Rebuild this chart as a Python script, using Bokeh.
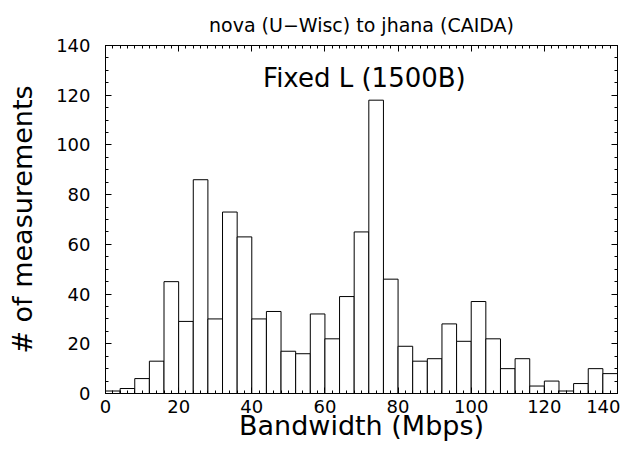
from bokeh.plotting import figure
from bokeh.models import LinearAxis, SingleIntervalTicker, Range1d, Label
from bokeh.embed import file_html
from bokeh.resources import INLINE

# histogram bins (Mbps), bin width 4
bin_left = [0, 4, 8, 12, 16, 20, 24, 28, 32, 36, 40, 44, 48, 52, 56, 60, 64, 68,
            72, 76, 80, 84, 88, 92, 96, 100, 104, 108, 112, 116, 120, 124, 128, 132, 136]
counts = [1, 2, 6, 13, 45, 29, 86, 30, 73, 63, 30, 33, 17, 16, 32, 22, 39, 65,
          118, 46, 19, 13, 14, 28, 21, 37, 22, 10, 14, 3, 5, 1, 4, 10, 8]
bin_width = 4
bin_right = [b + bin_width for b in bin_left]
bottoms = [0] * len(counts)

title_text = "nova (U\u2212Wisc) to jhana (CAIDA)"
x_label = "Bandwidth (Mbps)"
y_label = "# of measurements"
note_text = "Fixed L (1500B)"

FONT = "DejaVu Sans"

p = figure(width=620, height=446, output_backend="svg", toolbar_location=None,
           x_range=Range1d(0, 140), y_range=Range1d(0, 140),
           min_border_left=105, min_border_right=3, min_border_top=45, min_border_bottom=53,
           x_axis_label=x_label, y_axis_label=y_label)

p.title.text = title_text
p.title.text_font = FONT
p.title.text_font_size = "19px"
p.title.text_font_style = "normal"
p.title.align = "center"
p.title.text_color = "black"
p.title.standoff = 20

p.quad(left=bin_left, right=bin_right, top=counts, bottom=bottoms,
       fill_color="white", line_color="black", line_width=1)

p.xgrid.visible = False
p.ygrid.visible = False
p.outline_line_color = "black"
p.outline_line_width = 1
p.background_fill_color = "white"
p.border_fill_color = "white"

xt = SingleIntervalTicker(interval=20, num_minor_ticks=10)
yt = SingleIntervalTicker(interval=20, num_minor_ticks=4)

def style(ax, ticker, labels=True):
    ax.ticker = ticker
    ax.major_tick_in = 6
    ax.major_tick_out = 0
    ax.minor_tick_in = 3
    ax.minor_tick_out = 0
    ax.axis_line_color = "black"
    ax.major_tick_line_color = "black"
    ax.minor_tick_line_color = "black"
    ax.major_label_text_font = FONT
    ax.major_label_text_font_size = "18px" if labels else "0px"
    ax.major_label_text_color = "black" if labels else None
    ax.axis_label_text_font = FONT
    ax.axis_label_text_font_style = "normal"
    ax.axis_label_text_color = "black"

style(p.xaxis[0], xt)
style(p.yaxis[0], yt)
p.xaxis[0].major_label_standoff = 6
p.xaxis[0].axis_label_text_font_size = "27px"
p.xaxis[0].axis_label_standoff = -6
p.yaxis[0].major_label_standoff = 15
p.yaxis[0].axis_label_text_font_size = "27px"
p.yaxis[0].axis_label_standoff = 15

top_ax = LinearAxis()
style(top_ax, SingleIntervalTicker(interval=20, num_minor_ticks=10), labels=False)
top_ax.major_label_standoff = 0
p.add_layout(top_ax, "above")

right_ax = LinearAxis()
style(right_ax, SingleIntervalTicker(interval=20, num_minor_ticks=4), labels=False)
right_ax.major_label_standoff = 0
p.add_layout(right_ax, "right")

note = Label(x=70.8, y=127, text=note_text, text_font=FONT, text_font_size="26px",
             text_align="center", text_baseline="middle", text_color="black")
p.add_layout(note)

open("out.html", "w").write(file_html(p, INLINE))
